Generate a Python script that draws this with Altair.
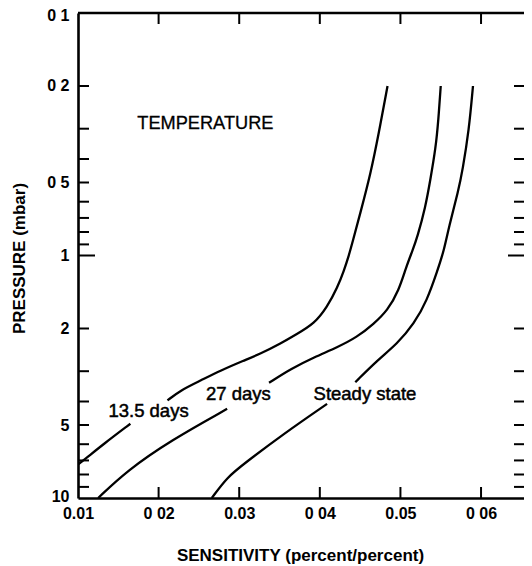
import altair as alt
import pandas as pd

# ---- data ----
# 13.5 days curve (upper part above label, lower part below label)
d135_up_x = [0.0484, 0.0473, 0.0463, 0.0450, 0.0440, 0.0436, 0.0430, 0.0422, 0.0409, 0.0393,
             0.0372, 0.0351, 0.0326, 0.0306, 0.0277, 0.0252, 0.0227, 0.0211]
d135_up_p = [0.20, 0.315, 0.46, 0.673, 0.895, 1.0, 1.153, 1.351, 1.634, 1.912,
             2.103, 2.312, 2.544, 2.71, 2.98, 3.28, 3.60, 3.96]
d135_lo_x = [0.0165, 0.0132, 0.0109, 0.0095]
d135_lo_p = [4.94, 5.98, 6.90, 7.5]

# 27 days curve
d27_up_x = [0.0550, 0.0547, 0.05439, 0.0537, 0.0531, 0.0521, 0.0515, 0.0507, 0.0498,
            0.0484, 0.0467, 0.0446, 0.0422, 0.0393, 0.0364, 0.0337]
d27_up_p = [0.20, 0.278, 0.357, 0.49, 0.632, 0.84, 0.954, 1.117, 1.394,
            1.686, 1.912, 2.173, 2.388, 2.627, 2.933, 3.35]
d27_lo_x = [0.0285, 0.0215, 0.0161, 0.0125]
d27_lo_p = [4.29, 5.79, 7.70, 10.0]

# Steady state curve
dss_up_x = [0.0590, 0.0585, 0.0577, 0.0572, 0.0560, 0.0554, 0.0546, 0.0533, 0.0517, 0.0496,
            0.0471, 0.0444]
dss_up_p = [0.20, 0.305, 0.446, 0.539, 0.764, 0.954, 1.153, 1.533, 1.912, 2.312,
            2.71, 3.33]
dss_lo_x = [0.0409, 0.0355, 0.0306, 0.0285, 0.0266]
dss_lo_p = [4.09, 5.44, 7.22, 8.21, 10.0]

# curve labels
label_text = ["13.5 days", "27 days", "Steady state"]
label_x = [0.01875, 0.0299, 0.0456]
label_p = [4.39, 3.71, 3.71]

title_text = ["TEMPERATURE"]
title_x = [0.0258]
title_p = [0.288]

# axes
x_ticks = [0.01, 0.02, 0.03, 0.04, 0.05, 0.06]
x_tick_labels = ["0.01", "0 02", "0.03", "0 04", "0.05", "0 06"]
y_ticks = [0.1, 0.2, 0.5, 1, 2, 5, 10]
y_tick_labels = ["0 1", "0 2", "0 5", "1", "2", "5", "10"]
y_minor = [0.2, 0.3, 0.4, 0.5, 0.6, 0.7, 0.8, 0.9, 2, 3, 4, 5, 6, 7, 8, 9]
y_major = [1]
x_inner = [0.02, 0.03, 0.04, 0.05, 0.06]

X_MIN, X_MAX = 0.01, 0.06533
W, H = 446, 485
FONT = "Liberation Sans"

rows = []
for name, parts in [("13.5", [(d135_up_x, d135_up_p), (d135_lo_x, d135_lo_p)]),
                    ("27", [(d27_up_x, d27_up_p), (d27_lo_x, d27_lo_p)]),
                    ("ss", [(dss_up_x, dss_up_p), (dss_lo_x, dss_lo_p)])]:
    for k, (xs, ps) in enumerate(parts):
        for i, (xv, pv) in enumerate(zip(xs, ps)):
            rows.append({"seg": f"{name}-{k}", "i": i, "x": xv, "p": pv})
curves = pd.DataFrame(rows)

xscale = alt.Scale(domain=[X_MIN, X_MAX], nice=False, zero=False)
yscale = alt.Scale(type="log", domain=[0.1, 10], reverse=True, nice=False)

def expr_map(vals, labels):
    parts = []
    for v, l in zip(vals, labels):
        parts.append(f"abs(datum.value - {v}) < {v}*0.001 ? '{l}'")
    return " : ".join(parts) + " : ''"

x_axis = alt.Axis(values=x_ticks, labelExpr=expr_map(x_ticks, x_tick_labels),
                  ticks=False, grid=False, domain=True, domainColor="black",
                  domainWidth=2.6, labelFlush=False, labelPadding=7, labelFontSize=16,
                  labelFontWeight="bold", labelColor="black",
                  title="SENSITIVITY (percent/percent)", titleFontSize=17, titleFontWeight="bold",
                  titleX=222, titleY=57, titleAlign="center",
                  titleBaseline="middle", titleColor="black")
y_axis = alt.Axis(values=y_ticks, labelExpr=expr_map(y_ticks, y_tick_labels),
                  ticks=False, grid=False, domain=True, domainColor="black",
                  domainWidth=2.6, labelPadding=9, labelFontSize=16, labelFontWeight="bold",
                  labelColor="black", labelFlush=True, labelFlushOffset=6,
                  title="PRESSURE (mbar)", titleFontSize=17, titleFontWeight="bold",
                  titleX=-59, titleY=245, titleAngle=270, titleAlign="center",
                  titleBaseline="middle", titleColor="black")

X = alt.X("x:Q", scale=xscale, axis=x_axis)
Y = alt.Y("p:Q", scale=yscale, axis=y_axis)

lines = alt.Chart(curves).mark_line(color="black", strokeWidth=2.3, clip=True,
                                    interpolate="basis").encode(
    x=X, y=Y, detail="seg:N", order="i:Q",
)

lbl = alt.Chart(pd.DataFrame({"x": label_x, "p": label_p, "t": label_text})).mark_text(
    font=FONT, fontSize=18.5, color="black", stroke="black", strokeWidth=0.5,
    align="center", baseline="middle"
).encode(x=X, y=Y, text="t:N")

ttl = alt.Chart(pd.DataFrame({"x": title_x, "p": title_p, "t": title_text})).mark_text(
    font=FONT, fontSize=18.2, color="black", stroke="black", strokeWidth=0.3,
    align="center", baseline="middle"
).encode(x=X, y=Y, text="t:N")

ydf_minor = pd.DataFrame({"p": y_minor})
ydf_major = pd.DataFrame({"p": y_major})
xdf = pd.DataFrame({"x": x_inner})

def yrule(df, x0, x1):
    return alt.Chart(df).mark_rule(color="black", strokeWidth=2).encode(
        y=Y, x=alt.value(x0), x2=alt.value(x1))

def xrule(df, y0, y1):
    return alt.Chart(df).mark_rule(color="black", strokeWidth=2).encode(
        x=X, y=alt.value(y0), y2=alt.value(y1))

top_border = alt.Chart(pd.DataFrame({"x": [X_MIN], "x2": [X_MAX]})).mark_rule(
    color="black", strokeWidth=2.6).encode(x=X, x2="x2:Q", y=alt.value(0))

chart = alt.layer(
    lines, lbl, ttl,
    yrule(ydf_minor, 0, 11), yrule(ydf_major, 0, 17),
    yrule(ydf_minor, W, W - 10), yrule(ydf_major, W, W - 16),
    xrule(xdf, 0, 11), xrule(xdf, H, H - 11),
    top_border,
).properties(
    width=W, height=H,
    autosize=alt.AutoSizeParams(type="none"),
    padding={"left": 70, "top": 5, "right": 0, "bottom": 67},
).configure_view(strokeWidth=0).configure_axis(
    labelFont=FONT, titleFont=FONT
).configure(background="white")

chart.save("out.html", embed_options={"renderer": "svg", "actions": False})
